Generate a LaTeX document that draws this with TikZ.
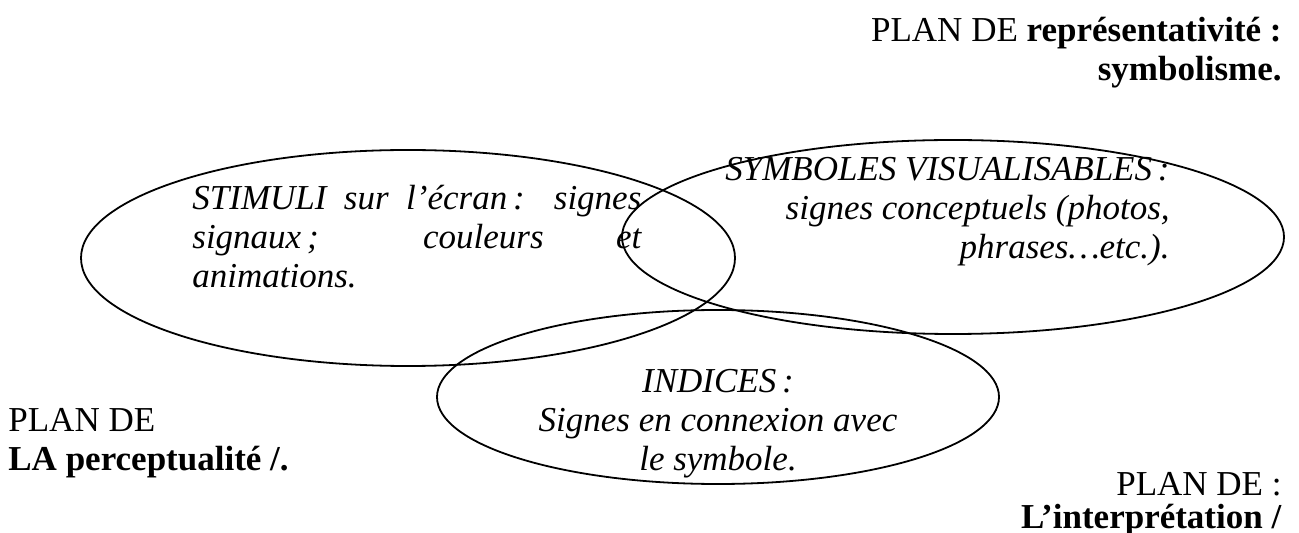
\documentclass[tikz,border=0pt]{standalone}
\usepackage{fontspec}
\setmainfont{Liberation Serif}
\usetikzlibrary{positioning}
\tikzset{
  txt/.style={inner sep=0pt,font=\fontsize{17.5}{19.5}\selectfont},
  ittxt/.style={inner sep=0pt,font=\fontsize{17.5}{19.5}\selectfont\itshape},
  venn/.style={line width=0.9pt}
}
\begin{document}
\begin{tikzpicture}[x=0.5pt,y=-0.5pt]
\useasboundingbox (0,0) rectangle (1299,533);
% les trois plans
\draw[venn] (408,258) ellipse [x radius=327,y radius=108];
\draw[venn] (953,237) ellipse [x radius=331,y radius=97];
\draw[venn] (718,397) ellipse [x radius=281,y radius=87];
\node[ittxt,anchor=north west,text width=224.5pt,align=justify] (stimuli) at (192,185)
  {STIMULI sur l’écran\,: signes\linebreak signaux\,; couleurs et\linebreak animations.};
\node[ittxt,anchor=north east,align=right] (symboles) at (1170,157)
  {SYMBOLES VISUALISABLES\,:\\ signes conceptuels (photos,\\ phrases…etc.).};
\node[ittxt,anchor=north,align=center] (indices) at (718,369)
  {INDICES\,:\\ Signes en connexion avec\\ le symbole.};
\node[txt,anchor=north east,align=right] (planrep) at (1282,17)
  {PLAN DE \textbf{représentativité :}\\ \textbf{symbolisme.}};
\node[txt,anchor=north west,align=left] (planperc) at (8,408)
  {PLAN DE\\ \textbf{LA perceptualité /.}};
\node[txt,anchor=north east,align=right,font=\fontsize{17.5}{16.5}\selectfont] (planint) at (1282,472)
  {PLAN DE :\\ \textbf{L’interprétation /}};
\end{tikzpicture}
\end{document}
